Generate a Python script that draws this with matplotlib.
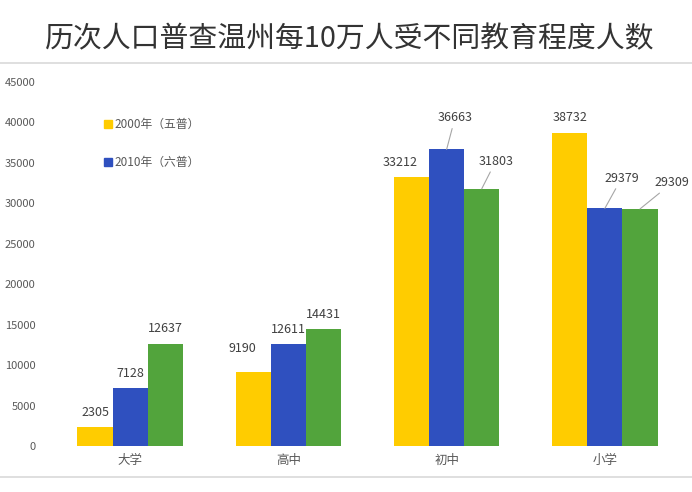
import numpy as np
import matplotlib.pyplot as plt
from matplotlib.lines import Line2D

plt.rcParams['font.family'] = ['Noto Sans CJK SC', 'DejaVu Sans']

# data
categories = ['大学', '高中', '初中', '小学']
series_names = ['2000年（五普）', '2010年（六普）', '2020年（七普）']
census_2000 = [2305, 9190, 33212, 38732]
census_2010 = [7128, 12611, 36663, 29379]
census_2020 = [12637, 14431, 31803, 29309]

colors = ['#FFCC00', '#2F50BF', '#52A43C']
series = [census_2000, census_2010, census_2020]

fig = plt.figure(figsize=(6.92, 4.92), dpi=100)
ax = fig.add_axes([51 / 692, 46 / 492, 633 / 692, 364 / 492])

x = np.arange(len(categories))
width = 0.222
for i, vals in enumerate(series):
    ax.bar(x + (i - 1) * width, vals, width, color=colors[i], label=series_names[i])

# value labels (offsets in points; some with leader lines)
offsets = {
    (0, 0): (0, 6), (0, 1): (0, 6), (0, 2): (0, 6),
    (1, 0): (-8, 12), (1, 1): (0, 6), (1, 2): (0, 6),
    (2, 0): (-8, 6), (2, 1): (6, 18), (2, 2): (10, 15),
    (3, 0): (0, 6), (3, 1): (12, 17), (3, 2): (23, 14),
}
leader = {(2, 1), (2, 2), (3, 1), (3, 2)}
for i, vals in enumerate(series):
    for j, v in enumerate(vals):
        dx, dy = offsets[(j, i)]
        xp = x[j] + (i - 1) * width
        arrow = None
        if (j, i) in leader:
            arrow = dict(arrowstyle='-', color='#a6a6a6', lw=0.8, shrinkA=1, shrinkB=0)
        ax.annotate(f'{v}', xy=(xp, v), xytext=(dx, dy), textcoords='offset points',
                    ha='center', va='bottom', fontsize=9, color='#404040',
                    annotation_clip=False, arrowprops=arrow)

ax.set_xlim(-0.5, 3.5)
ax.set_ylim(0, 45000)
ax.set_yticks(np.arange(0, 45001, 5000))
ax.set_xticks(x)
ax.set_xticklabels(categories)
ax.tick_params(axis='y', length=0, pad=11, labelsize=8, labelcolor='#595959')
ax.tick_params(axis='x', length=0, pad=6, labelsize=9, labelcolor='#595959')
for s in ax.spines.values():
    s.set_visible(False)

# legend: only first two entries shown in the original
handles = [Line2D([], [], marker='s', linestyle='', color=c, markersize=6) for c in colors[:2]]
ax.legend(handles, series_names[:2], loc='upper left', bbox_to_anchor=(0.067, 0.93),
          frameon=False, fontsize=8.5, labelcolor='#595959', handlelength=0.6,
          handletextpad=0.3, labelspacing=2.1)

fig.text(0.506, 1 - 39 / 492, '历次人口普查温州每10万人受不同教育程度人数',
         ha='center', va='center', fontsize=20.8, color='#333333')
fig.add_artist(Line2D([0, 1], [1 - 63 / 492] * 2, color='#d9d9d9', lw=1.2))
fig.add_artist(Line2D([0, 1], [1 - 477 / 492] * 2, color='#d9d9d9', lw=1.2))

fig.savefig('out.png', dpi=100)
